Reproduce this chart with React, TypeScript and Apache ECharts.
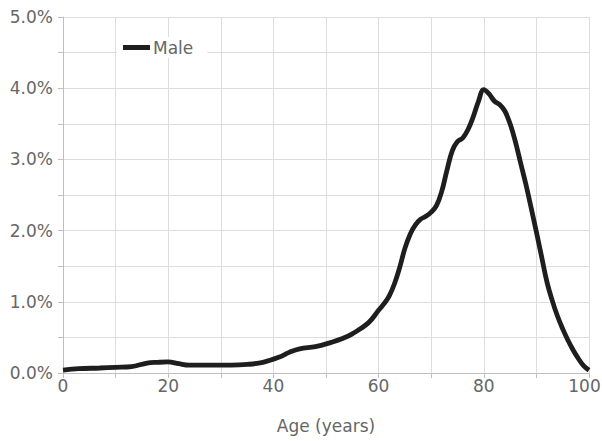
import React, { useEffect, useRef } from "react";
import * as echarts from "echarts";

const ages = [0, 3, 7, 10, 13, 16, 18, 20, 22, 24, 28, 32, 35, 38, 41, 43, 45, 48, 51, 53, 55, 58, 60, 61, 62, 63, 64, 65, 66, 67, 68, 69, 70, 71, 72, 73, 74, 75, 76, 77, 78, 79, 80, 81, 82, 83, 84, 85, 86, 87, 88, 89, 90, 91, 92, 93, 94, 95, 96, 97, 98, 99, 100];
const maleShare = [0.04, 0.06, 0.07, 0.08, 0.09, 0.14, 0.15, 0.155, 0.13, 0.11, 0.11, 0.11, 0.12, 0.15, 0.22, 0.29, 0.34, 0.37, 0.43, 0.48, 0.55, 0.7, 0.88, 0.97, 1.08, 1.25, 1.48, 1.75, 1.95, 2.08, 2.16, 2.2, 2.26, 2.35, 2.55, 2.85, 3.12, 3.25, 3.3, 3.42, 3.6, 3.82, 3.98, 3.92, 3.82, 3.77, 3.68, 3.5, 3.25, 2.95, 2.65, 2.32, 1.98, 1.63, 1.28, 1.02, 0.8, 0.62, 0.46, 0.32, 0.2, 0.1, 0.04];
const seriesName = "Male";
const xAxisName = "Age (years)";

const FONT = "'DejaVu Sans', sans-serif";
const TXT = "#666666";
const FS = 17;

export default function App() {
  const ref = useRef<HTMLDivElement>(null);
  useEffect(() => {
    if (!ref.current) return;
    const chart = echarts.init(ref.current, undefined, { renderer: "svg" });
    chart.setOption({
      animation: false,
      backgroundColor: "#ffffff",
      grid: { left: 63, right: 13, top: 17, bottom: 68, outerBoundsMode: "none", containLabel: false },
      legend: {
        data: [{ name: seriesName, icon: "rect" }],
        left: 117,
        top: 37,
        itemWidth: 27,
        itemHeight: 5,
        itemGap: 4,
        backgroundColor: "#ffffff",
        padding: [2, 14, 2, 6],
        textStyle: { fontFamily: FONT, fontSize: FS, color: TXT, padding: [0, 0, 0, -2] },
      },
      xAxis: {
        type: "value",
        min: 0,
        max: 100,
        interval: 20,
        name: xAxisName,
        nameLocation: "middle",
        nameGap: 44,
        nameTextStyle: { fontFamily: FONT, fontSize: FS, color: TXT },
        axisLine: { show: true, lineStyle: { color: "#bfbfbf", width: 1 } },
        axisTick: { show: true, length: 5, lineStyle: { color: "#bfbfbf" } },
        minorTick: { show: true, splitNumber: 2, length: 5, lineStyle: { color: "#bfbfbf" } },
        axisLabel: {
          fontFamily: FONT,
          fontSize: FS,
          color: TXT,
          margin: 4,
          formatter: (v: number) => (v === 100 ? "{last|" + v + "}" : String(v)),
          rich: {
            last: { fontFamily: FONT, fontSize: FS, color: TXT, padding: [0, 9, 0, 0] },
          },
        },
        splitLine: { show: true, lineStyle: { color: "#dddddd", width: 1 } },
        minorSplitLine: { show: true, lineStyle: { color: "#dddddd", width: 1 } },
      },
      yAxis: {
        type: "value",
        min: 0,
        max: 5,
        interval: 1,
        axisLine: { show: true, lineStyle: { color: "#bfbfbf", width: 1 } },
        axisTick: { show: true, length: 5, lineStyle: { color: "#bfbfbf" } },
        minorTick: { show: true, splitNumber: 2, length: 5, lineStyle: { color: "#bfbfbf" } },
        axisLabel: {
          fontFamily: FONT,
          fontSize: FS,
          color: TXT,
          margin: 10,
          formatter: (v: number) => v.toFixed(1) + "%",
        },
        splitLine: { show: true, lineStyle: { color: "#dddddd", width: 1 } },
        minorSplitLine: { show: true, lineStyle: { color: "#dddddd", width: 1 } },
      },
      series: [
        {
          name: seriesName,
          type: "line",
          data: ages.map((a, i) => [a, maleShare[i]]),
          smooth: 0.4,
          showSymbol: false,
          symbol: "none",
          lineStyle: { color: "#1e1e1e", width: 4.8 },
          itemStyle: { color: "#1e1e1e" },
        },
      ],
    });
    return () => chart.dispose();
  }, []);
  return <div ref={ref} style={{ width: 602, height: 441, position: "absolute", left: 0, top: 0 }} />;
}
